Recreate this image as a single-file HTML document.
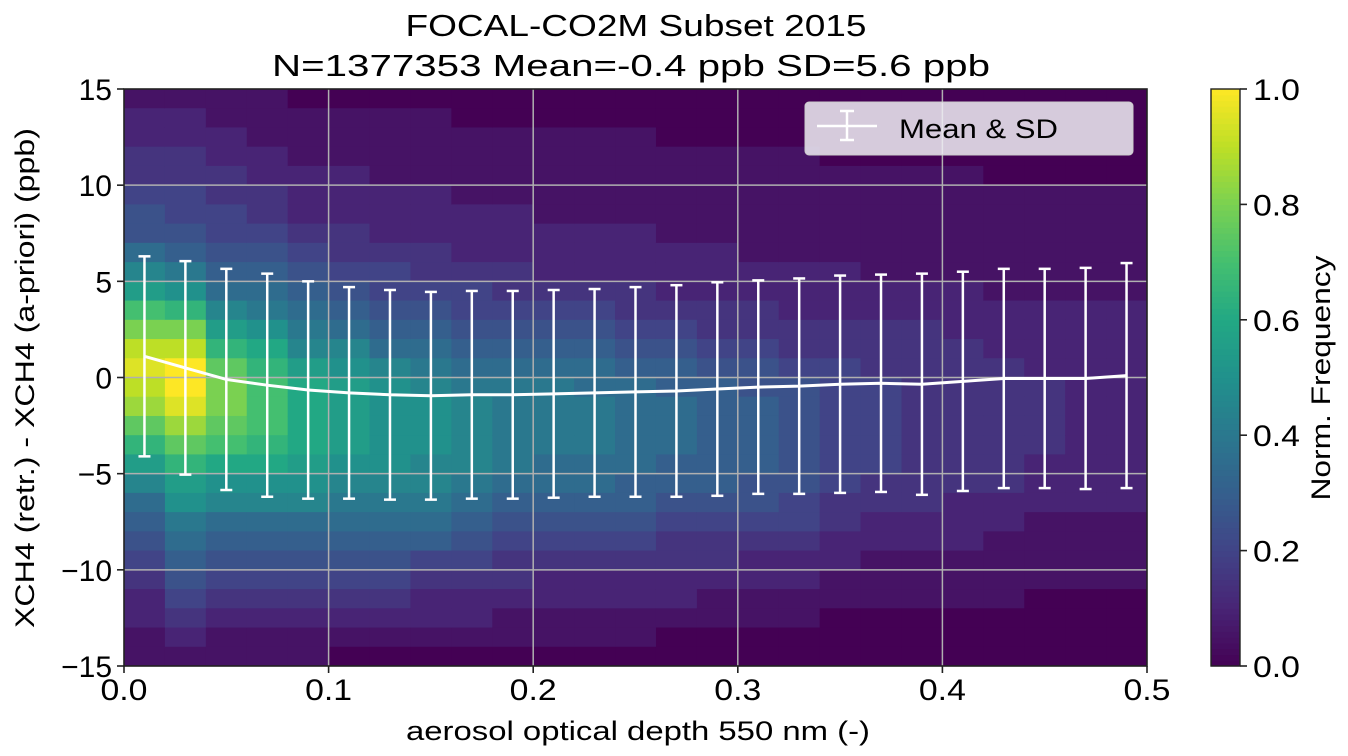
<!DOCTYPE html>
<html><head><meta charset="utf-8"><style>
html,body{margin:0;padding:0;background:#fff;}
svg{display:block;font-family:"Liberation Sans",sans-serif;}
</style></head><body>
<svg id="chart" width="1348" height="756" viewBox="0 0 1348 756">
<text x="636" y="36" font-size="31" text-anchor="middle" textLength="461" lengthAdjust="spacingAndGlyphs">FOCAL-CO2M Subset 2015</text>
<text x="631" y="76" font-size="31" text-anchor="middle" textLength="718" lengthAdjust="spacingAndGlyphs">N=1377353 Mean=-0.4 ppb SD=5.6 ppb</text>
<g id="heat"></g>
<g id="grid"></g>
<g id="series"></g>
<g id="axes"></g>
<g id="cbar"></g>
<g>
<rect x="805" y="102" width="328" height="53" rx="4" fill="#f0eef4" fill-opacity="0.85" stroke="#ccc"/>
<line x1="817" y1="126" x2="877" y2="126" stroke="#fff" stroke-width="2.5"/>
<line x1="847" y1="111" x2="847" y2="140" stroke="#fff" stroke-width="2.5"/>
<line x1="840" y1="111" x2="854" y2="111" stroke="#fff" stroke-width="2.5"/>
<line x1="840" y1="140" x2="854" y2="140" stroke="#fff" stroke-width="2.5"/>
<text x="899" y="138" font-size="27" textLength="159" lengthAdjust="spacingAndGlyphs">Mean &amp; SD</text>
</g>
<text x="638" y="740" font-size="27" text-anchor="middle" textLength="464" lengthAdjust="spacingAndGlyphs">aerosol optical depth 550 nm (-)</text>
<text transform="translate(34,378) rotate(-90)" font-size="27" text-anchor="middle" textLength="500" lengthAdjust="spacingAndGlyphs">XCH4 (retr.) - XCH4 (a-priori) (ppb)</text>
<text transform="translate(1330,378) rotate(-90)" font-size="27" text-anchor="middle" textLength="245" lengthAdjust="spacingAndGlyphs">Norm. Frequency</text>
</svg>
<script>
// heatmap columns (x bins 0.02 wide), each string top (+15) to bottom (-15), 1 ppb rows; 'a'=0 ... 'u'=1.0 in 0.05 steps
const heatCols = [
"bccddeffhjloqstsrpnljhgfedccbb",
"bccddeefgiknqsuutrpnlkihgfedcb",
"bbccddeefghjlnpqqpomkjhgfedcbb",
"bbbccddefghikmnooonmkjhgfedcbb",
"abbbcccdefghijlmmmmlkjhgfedcbb",
"abbbcccddefghjkllllkjihgfedcba",
"abbbbcccdeefghjkkkkkjihgfedcba",
"abbbbcccddefghijkkkjjihgedccba",
"aabbbbcccdeefghijjjjihgfedccba",
"aabbbbcccddefghiiiiihgfeddcbba",
"aabbbbbcccdefghiiiihhgfedccbba",
"aabbbbbcccdefghhiiihhgfedccbba",
"aabbbbbcccddefghhhhhggfedccbba",
"aaabbbbbcccdefgghhhggfeddccbaa",
"aaabbbbbcccddefggggggfeddcbbaa",
"aaabbbbbbccddeffggggffedccbbaa",
"aaabbbbbbcccddeffffffeedccbbaa",
"aaaabbbbbcccddeeeeeeeddccbbaaa",
"aaaabbbbbbccdddeeeeeddccbbbaaa",
"aaaabbbbbbccddddddddddccbbbaaa",
"aaaabbbbbbcccddddddddcccbbbaaa",
"aaaaabbbbbbcccdddddddccbbbbaaa",
"aaaaabbbbbbccccddddcccbbbbaaaa",
"aaaaabbbbbbcccccccccccbbbbaaaa",
"aaaaabbbbbbcccccccccccbbbbaaaa"
];
const xCenters = [0.01,0.03,0.05,0.07,0.09,0.11,0.13,0.15,0.17,0.19,0.21,0.23,0.25,0.27,0.29,0.31,0.33,0.35,0.37,0.39,0.41,0.43,0.45,0.47,0.49];
const means = [1.1,0.5,-0.1,-0.4,-0.65,-0.8,-0.9,-0.95,-0.9,-0.9,-0.85,-0.8,-0.75,-0.7,-0.6,-0.5,-0.45,-0.35,-0.3,-0.35,-0.2,-0.05,-0.05,-0.05,0.1];
const sds = [5.2,5.55,5.75,5.8,5.65,5.5,5.45,5.4,5.4,5.4,5.4,5.4,5.45,5.5,5.55,5.55,5.6,5.65,5.65,5.75,5.7,5.7,5.7,5.75,5.85];
const xTicks = [0,0.1,0.2,0.3,0.4,0.5];
const xTickLabels = ["0.0","0.1","0.2","0.3","0.4","0.5"];
const yTicks = [-15,-10,-5,0,5,10,15];
const yTickLabels = ["\u221215","\u221210","\u22125","0","5","10","15"];
const cTicks = [0,0.2,0.4,0.6,0.8,1.0];
const cTickLabels = ["0.0","0.2","0.4","0.6","0.8","1.0"];

const L=124,R=1147,T=89,B=666;
const xs=v=>L+(v/0.5)*(R-L);
const ys=v=>T+(15-v)/30*(B-T);
const NS="http://www.w3.org/2000/svg";
function mk(tag,attrs,parent){const e=document.createElementNS(NS,tag);for(const k in attrs)e.setAttribute(k,attrs[k]);parent.appendChild(e);return e;}
const vir=["#440154","#482475","#414487","#355f8d","#2a788e","#21918c","#22a884","#44bf70","#7ad151","#bddf26","#fde725"];
function hex(h){return [1,3,5].map(i=>parseInt(h.substr(i,2),16));}
function cmap(v){v=Math.max(0,Math.min(1,v));const p=v*10,i=Math.min(9,Math.floor(p)),f=p-i;const a=hex(vir[i]),b=hex(vir[i+1]);return "rgb("+a.map((c,k)=>Math.round(c+(b[k]-c)*f)).join(",")+")";}

const heat=document.getElementById('heat');
heatCols.forEach((col,ci)=>{
  const x0=xs(ci*0.02),x1=xs((ci+1)*0.02);
  for(let r=0;r<col.length;r++){
    const v=(col.charCodeAt(r)-97)*0.05;
    const y0=ys(15-r),y1=ys(14-r);
    const c=mk('rect',{x:x0,y:y0,width:x1-x0+0.5,height:y1-y0+0.5,fill:cmap(v)},heat);
    
    
  }
});
const grid=document.getElementById('grid');
xTicks.forEach(t=>{if(t>0&&t<0.5)mk('line',{x1:xs(t),x2:xs(t),y1:T,y2:B,stroke:'#b0b0b0','stroke-width':1.5},grid);});
yTicks.forEach(t=>{if(t>-15&&t<15)mk('line',{x1:L,x2:R,y1:ys(t),y2:ys(t),stroke:'#b0b0b0','stroke-width':1.5},grid);});

const ser=document.getElementById('series');
xCenters.forEach((x,i)=>{
  const g=mk('g',{},ser);
  
  
  const px=xs(x),yt=ys(means[i]+sds[i]),yb=ys(means[i]-sds[i]);
  mk('line',{x1:px,x2:px,y1:yt,y2:yb,stroke:'#fff','stroke-width':2.5},g);
  mk('line',{x1:px-6,x2:px+6,y1:yt,y2:yt,stroke:'#fff','stroke-width':2.5},g);
  mk('line',{x1:px-6,x2:px+6,y1:yb,y2:yb,stroke:'#fff','stroke-width':2.5},g);
});
const ml=mk('polyline',{points:xCenters.map((x,i)=>xs(x)+","+ys(means[i])).join(" "),fill:'none',stroke:'#fff','stroke-width':3},ser);



const ax=document.getElementById('axes');
mk('rect',{x:L,y:T,width:R-L,height:B-T,fill:'none',stroke:'#222','stroke-width':1.6},ax);
xTicks.forEach((t,i)=>{mk('line',{x1:xs(t),x2:xs(t),y1:B,y2:B+7,stroke:'#222','stroke-width':1.6},ax);
  const tx=mk('text',{x:xs(t),y:B+34,'font-size':30,'text-anchor':'middle',textLength:47,lengthAdjust:'spacingAndGlyphs'},ax);tx.textContent=xTickLabels[i];
  
  });
yTicks.forEach((t,i)=>{mk('line',{x1:L-7,x2:L,y1:ys(t),y2:ys(t),stroke:'#222','stroke-width':1.6},ax);
  const tx=mk('text',{x:L-12,y:ys(t)+11,'font-size':30,'text-anchor':'end'},ax);tx.textContent=yTickLabels[i];
  
  });

const cb=document.getElementById('cbar');
const CL=1211,CR=1240;
const N=100;
for(let i=0;i<N;i++){const y0=B-(i+1)*(B-T)/N;mk('rect',{x:CL,y:y0,width:CR-CL,height:(B-T)/N+0.6,fill:cmap((i+0.5)/N)},cb);}
mk('rect',{x:CL,y:T,width:CR-CL,height:B-T,fill:'none',stroke:'#222','stroke-width':1.4},cb);
cTicks.forEach((t,i)=>{const y=B-t*(B-T);mk('line',{x1:CR,x2:CR+7,y1:y,y2:y,stroke:'#222','stroke-width':1.6},cb);
  const tx=mk('text',{x:CR+13,y:y+11,'font-size':30,textLength:47,lengthAdjust:'spacingAndGlyphs'},cb);tx.textContent=cTickLabels[i];
  
  });
</script>
</body></html>
